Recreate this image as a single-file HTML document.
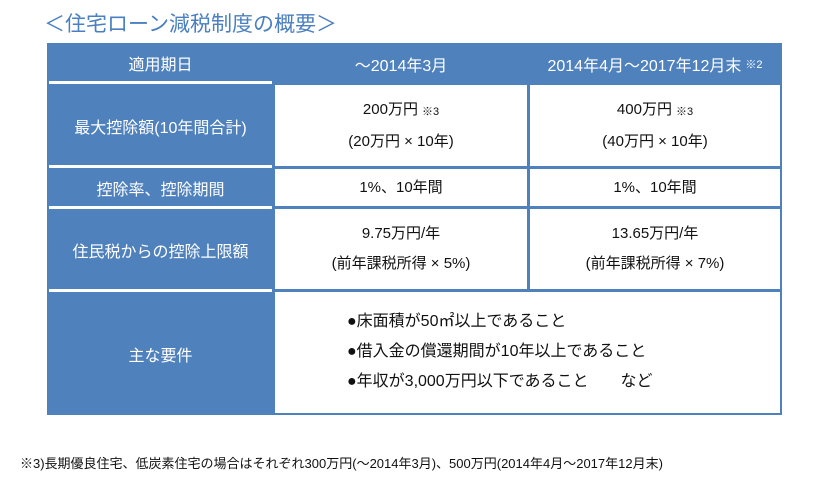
<!DOCTYPE html>
<html><head><meta charset="utf-8"><style>
body{margin:0;width:826px;height:491px;background:#fff;position:relative;overflow:hidden;font-family:"Liberation Sans","Noto Sans CJK JP",sans-serif;}
.a{position:absolute;box-sizing:border-box;}
.b{background:#4f81bd;color:#fff;display:flex;align-items:center;justify-content:center;font-size:16px;}
.w{background:#fff;color:#111;display:flex;flex-direction:column;align-items:center;justify-content:center;font-size:15px;line-height:30px;}
sup{font-size:11px;vertical-align:-1px;margin-left:4px}
</style></head><body>
<div class="a" style="left:44px;top:8px;font-size:21px;color:#4a7fc0;">＜住宅ローン減税制度の概要＞</div>
<div class="a" style="left:47px;top:43px;width:735px;height:372px;background:#4f81bd;"></div>
<!-- header -->
<div class="a b" style="left:49px;top:45px;width:223px;height:36px;">適用期日</div>
<div class="a b" style="left:275px;top:45px;width:252px;height:38px;">～2014年3月</div>
<div class="a b" style="left:530px;top:45px;width:250px;height:38px;">2014年4月～2017年12月末<sup>※2</sup></div>
<!-- left labels -->
<div class="a" style="left:49px;top:81px;width:223px;height:3px;background:#fff"></div>
<div class="a b" style="left:49px;top:86px;width:223px;height:79px;">最大控除額(10年間合計)</div>
<div class="a" style="left:49px;top:165px;width:223px;height:3px;background:#fff"></div>
<div class="a b" style="left:49px;top:170px;width:223px;height:36px;">控除率、控除期間</div>
<div class="a" style="left:49px;top:206px;width:223px;height:3px;background:#fff"></div>
<div class="a b" style="left:49px;top:211px;width:223px;height:78px;">住民税からの控除上限額</div>
<div class="a" style="left:49px;top:289px;width:223px;height:3px;background:#fff"></div>
<div class="a b" style="left:49px;top:294px;width:223px;height:119px;">主な要件</div>
<!-- data cells -->
<div class="a w" style="left:275px;top:85px;width:252px;height:81px;"><div>200万円<sup>※3</sup></div><div>(20万円 × 10年)</div></div>
<div class="a w" style="left:530px;top:85px;width:250px;height:81px;"><div>400万円<sup>※3</sup></div><div>(40万円 × 10年)</div></div>
<div class="a w" style="left:275px;top:169px;width:252px;height:37px;">1%、10年間</div>
<div class="a w" style="left:530px;top:169px;width:250px;height:37px;">1%、10年間</div>
<div class="a w" style="left:275px;top:209px;width:252px;height:80px;"><div>9.75万円/年</div><div>(前年課税所得 × 5%)</div></div>
<div class="a w" style="left:530px;top:209px;width:250px;height:80px;"><div>13.65万円/年</div><div>(前年課税所得 × 7%)</div></div>
<div class="a" style="left:275px;top:292px;width:505px;height:121px;background:#fff;font-size:16px;color:#111;padding:15px 0 0 72px;line-height:30px;">
<div>●床面積が50㎡以上であること</div>
<div>●借入金の償還期間が10年以上であること</div>
<div>●年収が3,000万円以下であること　　など</div>
</div>
<div class="a" style="left:20px;top:453px;font-size:13px;color:#111;white-space:nowrap;">※3)長期優良住宅、低炭素住宅の場合はそれぞれ300万円(～2014年3月)、500万円(2014年4月～2017年12月末)</div>
</body></html>
